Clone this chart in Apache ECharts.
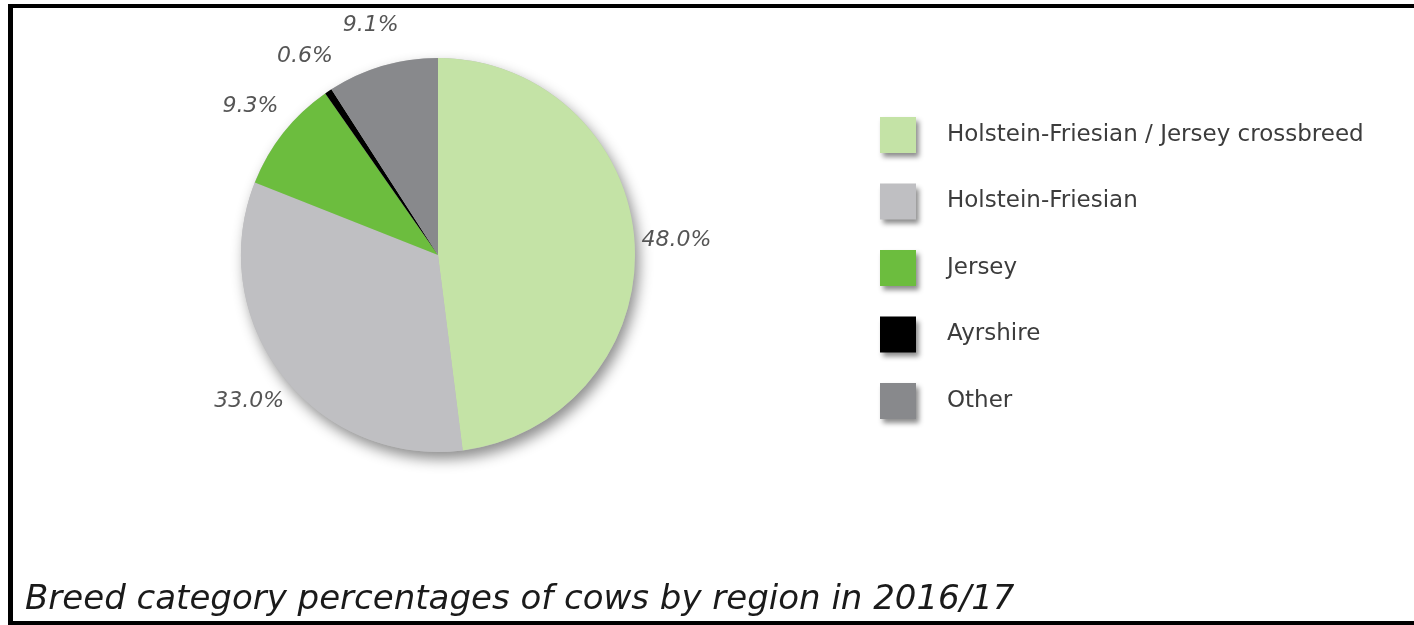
<!DOCTYPE html>
<html>
<head>
<meta charset="utf-8">
<script src="https://cdn.jsdelivr.net/npm/echarts@6/dist/echarts.min.js"></script>
<style>
  html, body { margin: 0; padding: 0; background: #fff; overflow: hidden; width: 1414px; height: 625px; }
  #chart { position: absolute; left: 0; top: 0; width: 1414px; height: 625px; }
  #frame { position: absolute; left: 8px; top: 4px; width: 1406px; height: 621px;
           border-left: 5px solid #000; border-top: 4px solid #000; border-bottom: 4px solid #000; border-right: 0;
           box-sizing: border-box; pointer-events: none; }
</style>
</head>
<body>
<div id="chart"></div>
<div id="frame"></div>
<script>
const categories = ['Holstein-Friesian / Jersey crossbreed', 'Holstein-Friesian', 'Jersey', 'Ayrshire', 'Other'];
const values = [48.0, 33.0, 9.3, 0.6, 9.1];
const colors = ['#c4e3a6', '#bfbfc2', '#6cbd3e', '#000000', '#88898c'];
const titleText = 'Breed category percentages of cows by region in 2016/17';

const total = values.reduce((a, b) => a + b, 0);
const chart = echarts.init(document.getElementById('chart'), null, { renderer: 'canvas' });

chart.setOption({
  animation: false,
  backgroundColor: '#ffffff',
  title: {
    text: titleText,
    left: 20,
    top: 578,
    textStyle: { fontFamily: 'DejaVu Sans', fontStyle: 'italic', fontWeight: 'normal', fontSize: 34, color: '#1a1a1a' }
  },
  legend: {
    orient: 'vertical',
    left: 875,
    top: 112,
    itemWidth: 36,
    itemHeight: 36,
    itemGap: 30.5,
    icon: 'rect',
    data: categories,
    itemStyle: { shadowBlur: 5, shadowOffsetX: 3, shadowOffsetY: 4, shadowColor: 'rgba(0,0,0,0.45)' },
    textStyle: { fontFamily: 'DejaVu Sans', fontSize: 23, color: '#3c3c3c', padding: [0, 0, 0, 26] }
  },
  series: [
    {
      type: 'pie',
      silent: true,
      center: [438, 255],
      radius: 197,
      z: 1,
      label: { show: false },
      labelLine: { show: false },
      itemStyle: { color: '#bbbbbb', shadowBlur: 14, shadowOffsetX: 4, shadowOffsetY: 7, shadowColor: 'rgba(0,0,0,0.45)' },
      data: [{ name: '_backdrop', value: total }]
    },
    {
      type: 'pie',
      center: [438, 255],
      radius: 197,
      z: 2,
      startAngle: 90,
      clockwise: true,
      avoidLabelOverlap: false,
      data: categories.map((c, i) => ({ name: c, value: values[i], itemStyle: { color: colors[i] } })),
      itemStyle: { borderWidth: 0 },
      label: {
        show: true,
        position: 'outside',
        distanceToLabelLine: 0,
        formatter: p => p.value.toFixed(1) + '%',
        fontFamily: 'DejaVu Sans',
        fontStyle: 'italic',
        fontSize: 22,
        color: '#555555'
      },
      labelLine: { show: false, length: 42, length2: 0 },
      labelLayout: { align: 'center', verticalAlign: 'middle' }
    }
  ]
});
</script>
</body>
</html>
